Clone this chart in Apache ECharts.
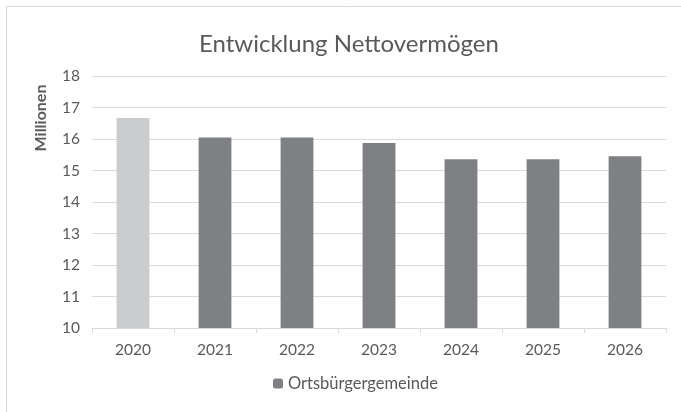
<!DOCTYPE html>
<html><head><meta charset="utf-8">
<script src="https://cdn.jsdelivr.net/npm/echarts@6/dist/echarts.min.js"></script>
<style>html,body{margin:0;padding:0;background:#fff}#c{width:681px;height:412px}</style>
</head><body><div id="c"></div>
<script>
const categories = ['2020','2021','2022','2023','2024','2025','2026'];
const values = [16.67, 16.05, 16.05, 15.87, 15.36, 15.36, 15.45];
const seriesName = 'Ortsbürgergemeinde';
const yTicks = [10, 11, 12, 13, 14, 15, 16, 17, 18];
const highlightIndex = 0;
const mainColor = '#7f8083';
const highlightColor = '#cbcccd';
const font = 'Lato, "Open Sans", sans-serif';

const chart = echarts.init(document.getElementById('c'));
chart.setOption({
  animation: false,
  title: {
    text: 'Entwicklung Nettovermögen',
    left: 194, top: 27,
    textStyle: { fontFamily: font, fontSize: 24, fontWeight: 'normal', color: '#595959' }
  },
  legend: {
    data: [seriesName], bottom: 15, left: 268,
    itemWidth: 10, itemHeight: 10, itemGap: 5,
    textStyle: { fontFamily: font, fontSize: 16.5, color: '#595959' }
  },
  graphic: [
    { type: 'rect', shape: { x: 6.5, y: 6.5, width: 690, height: 420 }, style: { fill: 'none', stroke: '#d9d9d9', lineWidth: 1 }, silent: true },
    { type: 'text', x: 41, y: 118, rotation: Math.PI / 2, style: { text: 'Millionen', fontFamily: font, fontSize: 16, fontWeight: 'bold', fill: '#595959', align: 'center', verticalAlign: 'middle' } }
  ],
  grid: { left: 92, right: 15, top: 76, bottom: 84 },
  xAxis: {
    type: 'category', data: categories,
    axisLine: { lineStyle: { color: '#d9d9d9' } },
    axisTick: { show: true, length: 5, lineStyle: { color: '#d9d9d9' } },
    axisLabel: { fontFamily: font, fontSize: 15.5, color: '#595959', margin: 14 }
  },
  yAxis: {
    type: 'value', min: yTicks[0], max: yTicks[yTicks.length - 1], interval: 1,
    axisLine: { show: false }, axisTick: { show: false },
    axisLabel: { fontFamily: font, fontSize: 15.5, color: '#595959', margin: 12 },
    splitLine: { lineStyle: { color: '#d9d9d9' } }
  },
  series: [{
    name: seriesName, type: 'bar', barWidth: '40%',
    itemStyle: { color: mainColor },
    data: values.map((v, i) => i === highlightIndex ? { value: v, itemStyle: { color: highlightColor } } : v)
  }]
});
</script></body></html>
